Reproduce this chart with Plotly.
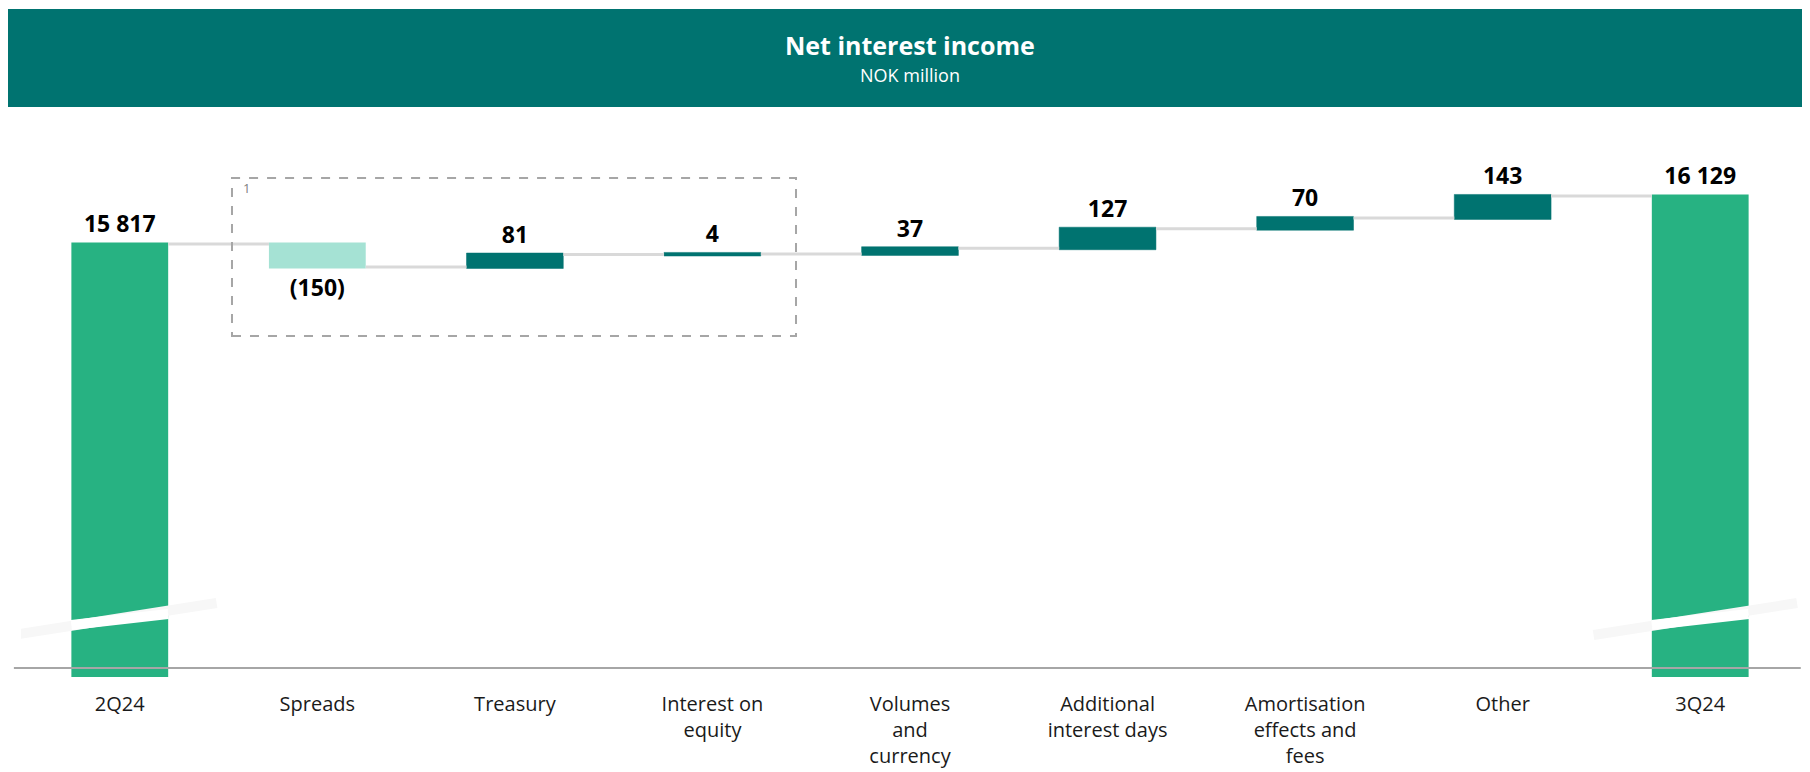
import plotly.graph_objects as go

TEAL = "#007370"
GREEN = "#27B282"
MINT = "#A5E2D4"
CONNECTOR = "#D9D9D9"
FONT = "Open Sans"

categories = ["2Q24", "Spreads", "Treasury", "Interest on<br>equity",
              "Volumes<br>and<br>currency", "Additional<br>interest days",
              "Amortisation<br>effects and<br>fees", "Other", "3Q24"]
values = [15817, -150, 81, 4, 37, 127, 70, 143, 16129]
measures = ["absolute", "relative", "relative", "relative", "relative",
            "relative", "relative", "relative", "total"]

y_range = [13000, 16558]


def fmt(v):
    s = f"{abs(v):,}".replace(",", " ")
    return f"({s})" if v < 0 else s


labels = [fmt(v) for v in values]

fig = go.Figure(go.Waterfall(
    x=categories, y=values, measure=measures,
    text=labels, textposition="outside",
    textfont=dict(family=FONT, size=23, color="#000000", weight="bold"),
    totals=dict(marker=dict(color=GREEN)),
    increasing=dict(marker=dict(color=TEAL, line=dict(color=TEAL, width=0.5))),
    decreasing=dict(marker=dict(color=MINT)),
    connector=dict(mode="between", line=dict(color=CONNECTOR, width=3)),
    hoverinfo="skip",
))

shapes = [
    # header band
    dict(type="rect", xref="paper", yref="paper", x0=-0.0075, x1=1.007, y0=1.042, y1=1.221,
         fillcolor=TEAL, line=dict(width=0), layer="below"),
    # axis line
    dict(type="line", xref="paper", yref="paper", x0=-0.004, x1=1.001, y0=0.0165, y1=0.0165,
         line=dict(color="#A6A6A6", width=2)),
    # dashed box around first three drivers
    dict(type="rect", xref="x", yref="y", x0=0.568, x1=3.423, y0=15218, y1=16246,
         line=dict(color="#A6A6A6", width=2, dash="dash")),
]

# axis break marks on the total bars
for i in (0, len(categories) - 1):
    shapes.append(dict(type="line", xref="x", yref="y", x0=i - 0.54, x1=i + 0.49,
                       y0=13273, y1=13481, line=dict(color="#F7F7F7", width=10), layer="above"))
    shapes.append(dict(type="line", xref="x", yref="y", x0=i - 0.245, x1=i + 0.245,
                       y0=13338, y1=13410, line=dict(color="#FFFFFF", width=10), layer="above"))

fig.update_layout(
    width=1802, height=764,
    margin=dict(l=13, r=11, t=122, b=95, autoexpand=False),
    paper_bgcolor="white", plot_bgcolor="white",
    font=dict(family=FONT, color="#1A1A1A"),
    waterfallgap=0.51,
    showlegend=False,
    xaxis=dict(showgrid=False, showline=False, zeroline=False, ticks="",
               range=[-0.5, 8.5], autorange=False, automargin=False,
               tickfont=dict(size=20, color="#1A1A1A"), ticklabelstandoff=13),
    yaxis=dict(visible=False, range=y_range, autorange=False, automargin=False),
    shapes=shapes,
    annotations=[
        dict(text="<b>Net interest income</b>", xref="paper", yref="paper", x=0.5, y=1.155,
             xanchor="center", yanchor="middle",
             showarrow=False, font=dict(size=25, color="white", family=FONT)),
        dict(text="NOK million", xref="paper", yref="paper", x=0.5, y=1.1005,
             xanchor="center", yanchor="middle",
             showarrow=False, font=dict(size=18, color="white", family=FONT)),
        dict(text="1", xref="x", yref="y", x=0.613, y=16181, xanchor="left", yanchor="middle",
             showarrow=False, font=dict(size=13, color="#7F7F7F", family=FONT)),
    ],
)

fig.write_html("out.html")
